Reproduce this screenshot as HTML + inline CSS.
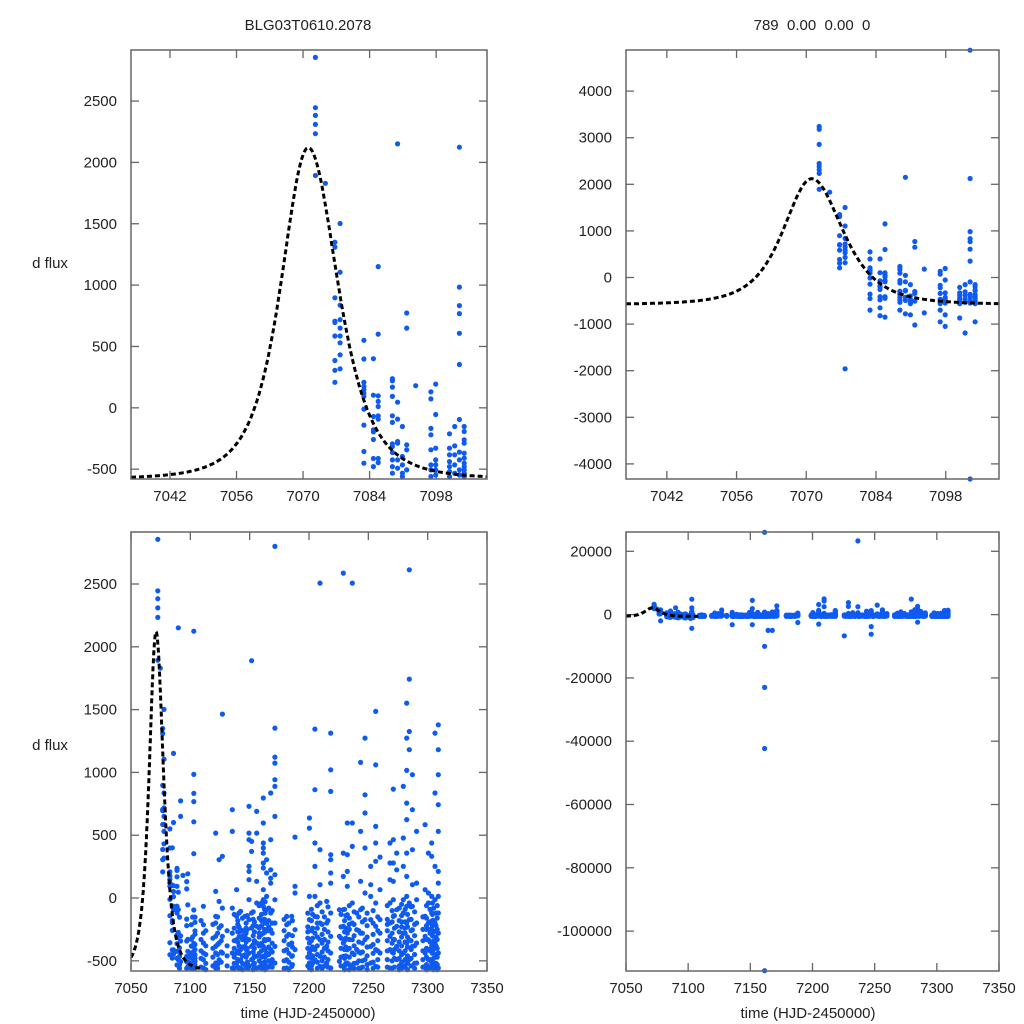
<!DOCTYPE html>
<html><head><meta charset="utf-8"><style>
html,body{margin:0;padding:0;background:#fff}
svg{display:block}
text{font-family:"Liberation Sans",sans-serif;fill:#222}
</style></head><body>
<svg id="chart" width="1024" height="1024" viewBox="0 0 1024 1024" xmlns="http://www.w3.org/2000/svg">
<text x="308" y="30" font-size="15" text-anchor="middle">BLG03T0610.2078</text>
<text x="812" y="30" font-size="15" text-anchor="middle" xml:space="preserve">789  0.00  0.00  0</text>
<text x="50" y="268" font-size="15" text-anchor="middle">d flux</text>
<text x="50" y="750" font-size="15" text-anchor="middle">d flux</text>
<text x="308" y="1018" font-size="15" text-anchor="middle">time (HJD-2450000)</text>
<text x="808" y="1018" font-size="15" text-anchor="middle">time (HJD-2450000)</text>
</svg>
<script>
// observation nights (HJD-2450000) and flux values per night
const nightTimes = [7072.6,7074.7,7076.7,7077.8,7082.8,7084.8,7085.8,7088.8,7089.9,7090.9,7091.8,7093.7,7096.9,7097.9,7100.8,7101.9,7102.9,7103.9,
7111,7121.4,7124.2,7127,7135.4,7139,7142.4,7146,7149.4,7151.6,7155.9,7161.5,7164.3,7167.7,7171.3,7181.2,7185.4,7188.2,
7200.3,7205,7209.3,7214.9,7218.3,7225.6,7228.9,7232.3,7236.5,7240.2,7243.5,7247.2,7252,7256.2,7259.8,7268.3,7271,7273.9,
7279.5,7282.3,7284.5,7287.1,7290.7,7297.8,7300.6,7303.4,7306.2,7309];
const nightFlux = [
[3240,3180,2856,2446,2383,2310,2234,1893],
[1830],
[1350,1310,897,706,695,585,386,306,208],
[1502,1105,836,718,650,585,530,432,318,-1960],
[550,398,208,175,148,120,93,-10,-141,-356,-451,-700],
[400,103,-71,-180,-196,-258,-413,-479,-650,-820],
[1151,601,98,52,11,-65,-92,-413,-446,-850],
[237,220,169,93,-65,-119,-293,-315,-364,-424,-479,-533,-700],
[2151,46,-92,-274,-288,-424,-492,-780],
[-152,-397,-465,-533,-560,-800],
[773,650,-301,-342,-506,-1020],
[180,-760],
[131,73,-168,-220,-342,-465,-506,-560,-950,-700],
[193,-54,-329,-424,-465,-506,-547,-1050,-800],
[-212,-329,-383,-438,-479,-520,-560,-870],
[-152,-310,-383,-465,-533,-1190],
[4877,2124,984,833,768,607,353,-95,-361,-424,-506,-547,-4324],
[-152,-193,-261,-288,-370,-410,-451,-479,-506,-533,-560,-950],
[-66,-212,-279,-358,-438,-491,-557],
[517,53,-146,-199,-305,-385,-438,-517,-557],
[305,-27,-239,-358,-491],
[1464,332,-80,-305,-438],
[703,530,-80,-279,-438,-557,-3200],
[66,-146,-332,-438,-517],
[-106,-252,-411,-491,-557],
[-146,-305,-385,-451,-531],
[730,517,464,252,212,146,-13,-172,-332,-438,-544],
[4500,1889,451,371,-119,-239,-385,-491,-3200],
[690,517,133,-40,-225,-358,-464,-557],
[26000,796,597,438,398,358,279,239,66,-13,-66,-172,-279,-385,-464,-544,-10000,-23000,-42300,-112500],
[305,199,13,-93,-199,-332,-438,-544,-5000],
[836,464,225,159,119,-119,-252,-411,-517,-5000],
[2799,1353,1122,1074,942,889,650,186,-13,-199,-385,-517],
[-146,-212,-305,-411,-491,-557],
[-146,-358,-464,-544],
[485,93,40,-252,-411,-2500],
[637,557,13,-172,-358,-438,-517,-557],
[3200,1345,862,438,252,13,-146,-279,-411,-491,-3000],
[5000,4300,2507,385,106,-40,-199,-332,-464,-544],
[-27,-199,-385,-517],
[1313,1021,849,345,305,199,119,-119,-305,-438,-557],
[-93,-305,-504,-6700],
[3800,2587,358,172,-93,-225,-358,-464,-544],
[597,345,212,93,-133,-279,-411,-517],
[23300,2507,597,411,-40,-199,-332,-438,-544],
[-119,-252,-411,-517],
[1080,530,133,-93,-279,-438,-557],
[1273,822,677,398,40,-172,-332,-491,-3800,-6200],
[3000,252,106,13,-172,-385,-517],
[1486,1061,570,438,292,-40,-225,-411,-544],
[326,66,-172,-279,-438],
[438,279,146,-40,-199,-305,-411,-557],
[867,464,279,133,-13,-146,-332,-438],
[358,225,-93,-225,-385,-491],
[4900,889,478,252,-13,-119,-279,-438,-544],
[1552,1273,1016,756,624,358,172,13,-66,-199,-358,-517],
[2613,1743,1326,1181,-40,-172,-332,-491,-2400],
[982,703,385,106,-66,-252,-385],
[530,119,-13,-199,-358,-517],
[584,66,-146,-305,-438,-544],
[358,40,-40,-199,-332,-411,-491,-557],
[438,332,13,-119,-252,-385,-517],
[1313,836,252,-13,-199,-358,-544],
[1379,1181,982,743,530,212,119,13,-119,-279,-438,-557]
];
// additional faint-state nights (mostly near baseline)
const extraTimes = [7109,7113,7119,7123,7126,7131,7137,7140,7141,7144,7147,7148,7153,7154,7158,7160,7162.5,7163,7166,7169,7179,7183,7186,7199,7202,7203,7207,7211,7213,7216,7227,7230,7231,7234,7238,7242,7245,7249,7254,7258,7266,7270,7272,7276,7278,7281,7283,7286,7289,7296,7299,7302,7304,7305,7307,7308];
const extraFlux = [
[-180,-330,-420,-480,-550],
[-260,-380,-450,-520,-570],
[-210,-320,-400,-470,-540],
[-150,-280,-370,-450,-530,-560],
[-220,-340,-430,-510],
[-260,-380,-460,-540],
[-130,-240,-340,-400,-470,-520,-560],
[-180,-270,-350,-420,-490,-550,-210],
[-120,-230,-310,-380,-440,-500,-560,-270],
[-160,-260,-330,-390,-460,-520,-570,-300],
[-200,-280,-350,-410,-470,-540,-240],
[-140,-250,-330,-400,-450,-510,-560],
[-110,-220,-300,-370,-430,-480,-530,-570,-170],
[-190,-270,-340,-400,-460,-520,-560],
[-60,-160,-240,-310,-380,-440,-500,-550,-280],
[-40,-130,-220,-290,-360,-420,-470,-520,-560,-180],
[-90,-170,-250,-330,-400,-460,-510,-560],
[-30,-120,-200,-270,-340,-410,-470,-530,-570],
[-80,-180,-260,-330,-390,-450,-500,-550,-230],
[-100,-200,-280,-360,-430,-490,-550],
[-170,-260,-340,-420,-500,-560],
[-200,-290,-370,-440,-510,-570],
[-180,-300,-390,-460,-530],
[-120,-230,-320,-400,-470,-540,-270],
[-90,-180,-260,-340,-410,-480,-540,-570],
[-130,-240,-320,-390,-460,-520],
[-60,-150,-240,-310,-380,-450,-510,-560,-200],
[-110,-210,-290,-360,-430,-500,-560],
[-150,-250,-330,-400,-470,-540],
[-70,-180,-270,-350,-420,-490,-550],
[-130,-230,-320,-400,-470,-540],
[-90,-180,-270,-340,-410,-480,-540,-570],
[-140,-240,-320,-390,-460,-520],
[-60,-160,-250,-330,-400,-470,-530,-570,-210],
[-110,-210,-300,-380,-450,-520,-560],
[-150,-260,-350,-430,-500,-560],
[-80,-190,-280,-360,-430,-500,-550],
[-120,-220,-310,-390,-460,-530,-570],
[-100,-200,-290,-370,-440,-510,-560],
[-150,-260,-340,-420,-490,-550],
[-60,-170,-260,-340,-420,-490,-550,-210],
[-100,-190,-280,-360,-430,-500,-560],
[-140,-240,-330,-410,-480,-550],
[-80,-180,-270,-350,-420,-480,-540,-570],
[-50,-140,-230,-310,-380,-450,-510,-560,-190],
[-90,-190,-280,-350,-420,-490,-550,-240],
[-130,-230,-310,-390,-460,-520,-570],
[-70,-170,-260,-340,-410,-480,-540],
[-110,-210,-300,-380,-450,-520,-560],
[-150,-250,-340,-420,-490,-550],
[-60,-160,-250,-330,-400,-470,-530,-570,-220],
[-90,-190,-280,-350,-420,-490,-550,-250],
[-40,-130,-220,-300,-370,-440,-500,-560,-180],
[-80,-180,-270,-340,-410,-480,-540,-570],
[-120,-220,-310,-380,-450,-520,-560,-260],
[-60,-160,-250,-330,-400,-470,-530,-570]
];
// microlensing model parameters
const modelPeakTime = [7071.1];
const modelBase = [-580];
const modelAmp = [2700];
const modelWidth = [10.5, 11.4];

// panel definitions: tick values
const tlXTicks = [7042,7056,7070,7084,7098];
const tlYTicks = [-500,0,500,1000,1500,2000,2500];
const trYTicks = [-4000,-3000,-2000,-1000,0,1000,2000,3000,4000];
const blXTicks = [7050,7100,7150,7200,7250,7300,7350];
const brYTicks = [-100000,-80000,-60000,-40000,-20000,0,20000];

const NS = "http://www.w3.org/2000/svg";
const svg = document.getElementById('chart');
function mk(tag, attrs, parent){const e=document.createElementNS(NS,tag);for(const k in attrs)e.setAttribute(k,attrs[k]);(parent||svg).appendChild(e);return e;}

function model(t){
  const dt=t-modelPeakTime[0];
  const w = dt<0?modelWidth[0]:modelWidth[1];
  const x=dt/w;
  return modelBase[0]+modelAmp[0]/Math.pow(1+x*x,2);
}

const panels = [
  {name:'top-left', x0:131,x1:487,y0:50,y1:479, xmin:7033.8,xmax:7108.7, ymin:-580,ymax:2916, xt:tlXTicks, yt:tlYTicks, mEnd:7108.7},
  {name:'top-right', x0:626,x1:999,y0:50,y1:479, xmin:7033.8,xmax:7108.7, ymin:-4324,ymax:4882, xt:tlXTicks, yt:trYTicks, mEnd:7108.7},
  {name:'bottom-left', x0:131,x1:487,y0:532,y1:971, xmin:7050,xmax:7350, ymin:-581,ymax:2914, xt:blXTicks, yt:tlYTicks, mEnd:7108},
  {name:'bottom-right', x0:626,x1:999,y0:532,y1:971, xmin:7050,xmax:7350, ymin:-112600,ymax:26100, xt:blXTicks, yt:brYTicks, mEnd:7108}
];

panels.forEach(p=>{
  const g=mk('g',{});
  
  
  const sx=t=>p.x0+(t-p.xmin)/(p.xmax-p.xmin)*(p.x1-p.x0);
  const sy=v=>p.y1-(v-p.ymin)/(p.ymax-p.ymin)*(p.y1-p.y0);
  const cid='clip-'+p.name;
  const cp=mk('clipPath',{id:cid},g);
  mk('rect',{x:p.x0,y:p.y0-3,width:p.x1-p.x0,height:p.y1-p.y0+6},cp);
  p.xt.forEach(t=>{
    const x=sx(t);
    const l1=mk('line',{x1:x,x2:x,y1:p.y1,y2:p.y1-8,stroke:'#666','stroke-width':1.3},g);
    
    
    mk('line',{x1:x,x2:x,y1:p.y0,y2:p.y0+8,stroke:'#666','stroke-width':1.3},g);
    const tx=mk('text',{x:x,y:p.y1+22,'font-size':15,'text-anchor':'middle'},g);
    tx.textContent=t;
    
    
  });
  p.yt.forEach(v=>{
    const y=sy(v);
    const l1=mk('line',{x1:p.x0,x2:p.x0+8,y1:y,y2:y,stroke:'#666','stroke-width':1.3},g);
    
    
    mk('line',{x1:p.x1,x2:p.x1-8,y1:y,y2:y,stroke:'#666','stroke-width':1.3},g);
    const tx=mk('text',{x:p.x0-14,y:y+5,'font-size':15,'text-anchor':'end'},g);
    tx.textContent=v;
    
    
  });
  const pg=mk('g',{'clip-path':'url(#'+cid+')'},g);
  function plotSet(times, fluxes){
    times.forEach((t,i)=>{
      if(t<p.xmin||t>p.xmax) return;
      fluxes[i].forEach(v=>{
        if(v<p.ymin-50||v>p.ymax+50) return;
        const c=mk('circle',{cx:sx(t).toFixed(1),cy:sy(v).toFixed(1),r:2.6,fill:'#0f5bf0'},pg);
        
        
      });
    });
  }
  plotSet(nightTimes, nightFlux);
  plotSet(extraTimes, extraFlux);
  let d='';
  const steps=300;
  for(let k=0;k<=steps;k++){
    const t=p.xmin+(p.mEnd-p.xmin)*k/steps;
    d+=(k?'L':'M')+sx(t).toFixed(1)+' '+sy(model(t)).toFixed(1);
  }
  const path=mk('path',{d:d,fill:'none',stroke:'#000','stroke-width':3,'stroke-dasharray':'5 3','clip-path':'url(#'+cid+')'},g);
  
  
  const fr=mk('rect',{x:p.x0,y:p.y0,width:p.x1-p.x0,height:p.y1-p.y0,fill:'none',stroke:'#666','stroke-width':1.5},g);
  
  
});
</script>
</body></html>
